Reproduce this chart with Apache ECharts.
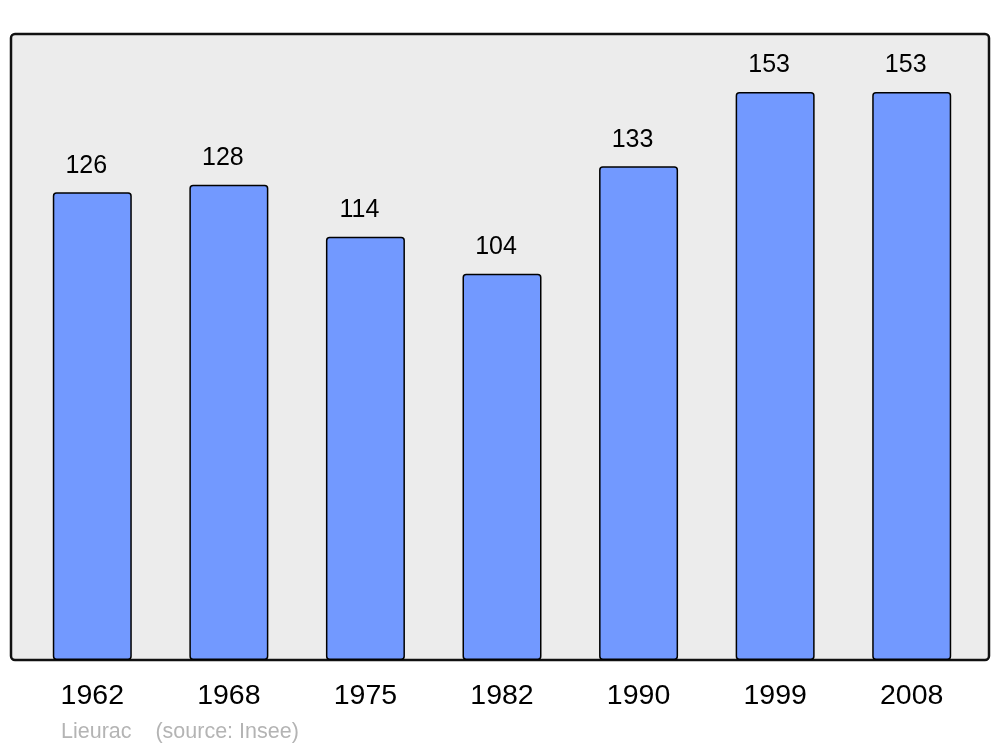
<!DOCTYPE html>
<html><head><meta charset="utf-8">
<script src="https://cdn.jsdelivr.net/npm/echarts@6/dist/echarts.min.js"></script>
<style>html,body{margin:0;padding:0;background:#fff}#c{width:1000px;height:747px}</style>
</head><body><div id="c"></div>
<script>
const categories = ['1962','1968','1975','1982','1990','1999','2008'];
const population = [126,128,114,104,133,153,153];
const sourceText = 'Lieurac    (source: Insee)';

const chart = echarts.init(document.getElementById('c'), null, {renderer:'canvas'});
chart.setOption({
  animation: false,
  backgroundColor: '#ffffff',
  textStyle: {fontFamily: 'Liberation Sans, Arial, sans-serif'},
  grid: {left: 24, right: 20, top: 34, bottom: 87},
  graphic: [{
    type: 'rect', z: -1,
    shape: {x: 11, y: 34, width: 978, height: 626, r: 4},
    style: {fill: '#ececec', stroke: '#111', lineWidth: 2.5}
  }],
  title: {
    text: sourceText, left: 56, top: 716,
    textStyle: {fontSize: 21.5, fontWeight: 'normal', color: '#b4b4b4', fontFamily: 'Liberation Sans, Arial, sans-serif'}
  },
  xAxis: {
    type: 'category', data: categories,
    axisLine: {show: false}, axisTick: {show: false},
    axisLabel: {fontSize: 28.5, color: '#000', margin: 22, fontFamily: 'Liberation Sans, Arial, sans-serif'}
  },
  yAxis: {
    type: 'value', min: 0, max: 168.6, show: false, splitLine: {show: false}
  },
  series: [{
    type: 'bar', data: population, barWidth: 79,
    itemStyle: {color: '#7299ff', borderColor: '#000', borderWidth: 1.5, borderRadius: 3},
    label: {show: true, position: 'top', distance: 14, offset: [-6, 0], fontSize: 25, color: '#000', fontFamily: 'Liberation Sans, Arial, sans-serif'}
  }]
});
</script></body></html>
